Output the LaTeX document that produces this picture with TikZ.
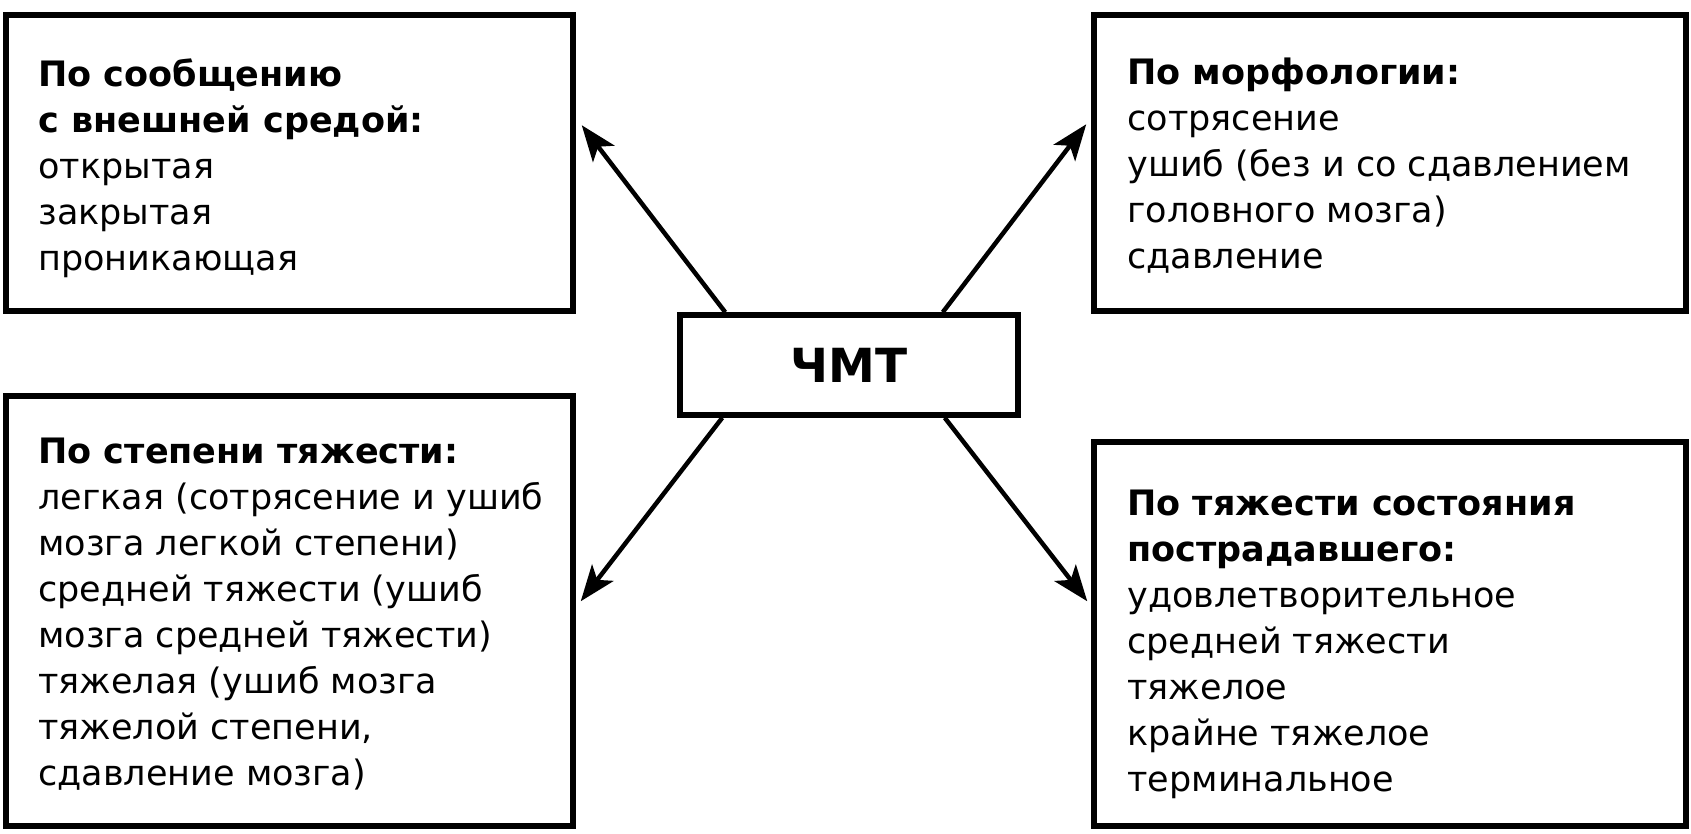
\documentclass[tikz,border=0pt]{standalone}
\usepackage{fontspec}
\setmainfont{DejaVu Sans}
\usetikzlibrary{arrows.meta,calc}
\newcommand{\boxlines}[1]{\parbox[t]{580pt}{\raggedright\fontsize{35}{46}\selectfont #1}}
\begin{document}
\begin{tikzpicture}[x=1pt,y=-1pt,
  box/.style={draw=black,line width=5.5pt,fill=white,inner sep=0pt},
  txt/.style={anchor=base west,inner sep=0pt},
  conn/.style={line width=4.5pt,-{Stealth[length=36pt,width=27pt,inset=9pt]}}]
\useasboundingbox[fill=white] (0,0) rectangle (1691,833);
% boxes
\node[box,minimum width=567pt,minimum height=296pt] (tl) at (289.5,163) {};
\node[box,minimum width=592pt,minimum height=296pt] (tr) at (1390,163) {};
\node[box,minimum width=567pt,minimum height=430pt] (bl) at (289.5,611) {};
\node[box,minimum width=592pt,minimum height=384pt] (br) at (1390,634) {};
\node[box,minimum width=338pt,minimum height=100pt,font=\fontsize{47}{50}\selectfont\bfseries] (c) at (849,365) {ЧМТ};
% texts
\node[txt] (tltext) at ($(tl.north west)+(35,74)$) {\boxlines{\textbf{По сообщению}\\\textbf{с внешней средой:}\\открытая\\закрытая\\проникающая}};
\node[txt] (trtext) at ($(tr.north west)+(36,72)$) {\boxlines{\textbf{По морфологии:}\\сотрясение\\ушиб (без и со сдавлением\\головного мозга)\\сдавление}};
\node[txt] (bltext) at ($(bl.north west)+(35,70)$) {\boxlines{\textbf{По степени тяжести:}\\легкая (сотрясение и ушиб\\мозга легкой степени)\\средней тяжести (ушиб\\мозга средней тяжести)\\тяжелая (ушиб мозга\\тяжелой степени,\\сдавление мозга)}};
\node[txt] (brtext) at ($(br.north west)+(36,76)$) {\boxlines{\textbf{По тяжести состояния}\\\textbf{пострадавшего:}\\удовлетворительное\\средней тяжести\\тяжелое\\крайне тяжелое\\терминальное}};
% connector end points
\coordinate (s1) at ($(c.north west)+(48,0)$);
\coordinate (e1) at ($(tl.north east)+(6,113)$);
\coordinate (s2) at ($(c.north east)+(-78,0)$);
\coordinate (e2) at ($(tr.north west)+(-5,112)$);
\coordinate (s3) at ($(c.south west)+(45,0)$);
\coordinate (e3) at ($(bl.north east)+(5,208)$);
\coordinate (s4) at ($(c.south east)+(-76,0)$);
\coordinate (e4) at ($(br.north west)+(-4,162)$);
\draw[conn] (s1) -- (e1);
\draw[conn] (s2) -- (e2);
\draw[conn] (s3) -- (e3);
\draw[conn] (s4) -- (e4);
\end{tikzpicture}
\end{document}
